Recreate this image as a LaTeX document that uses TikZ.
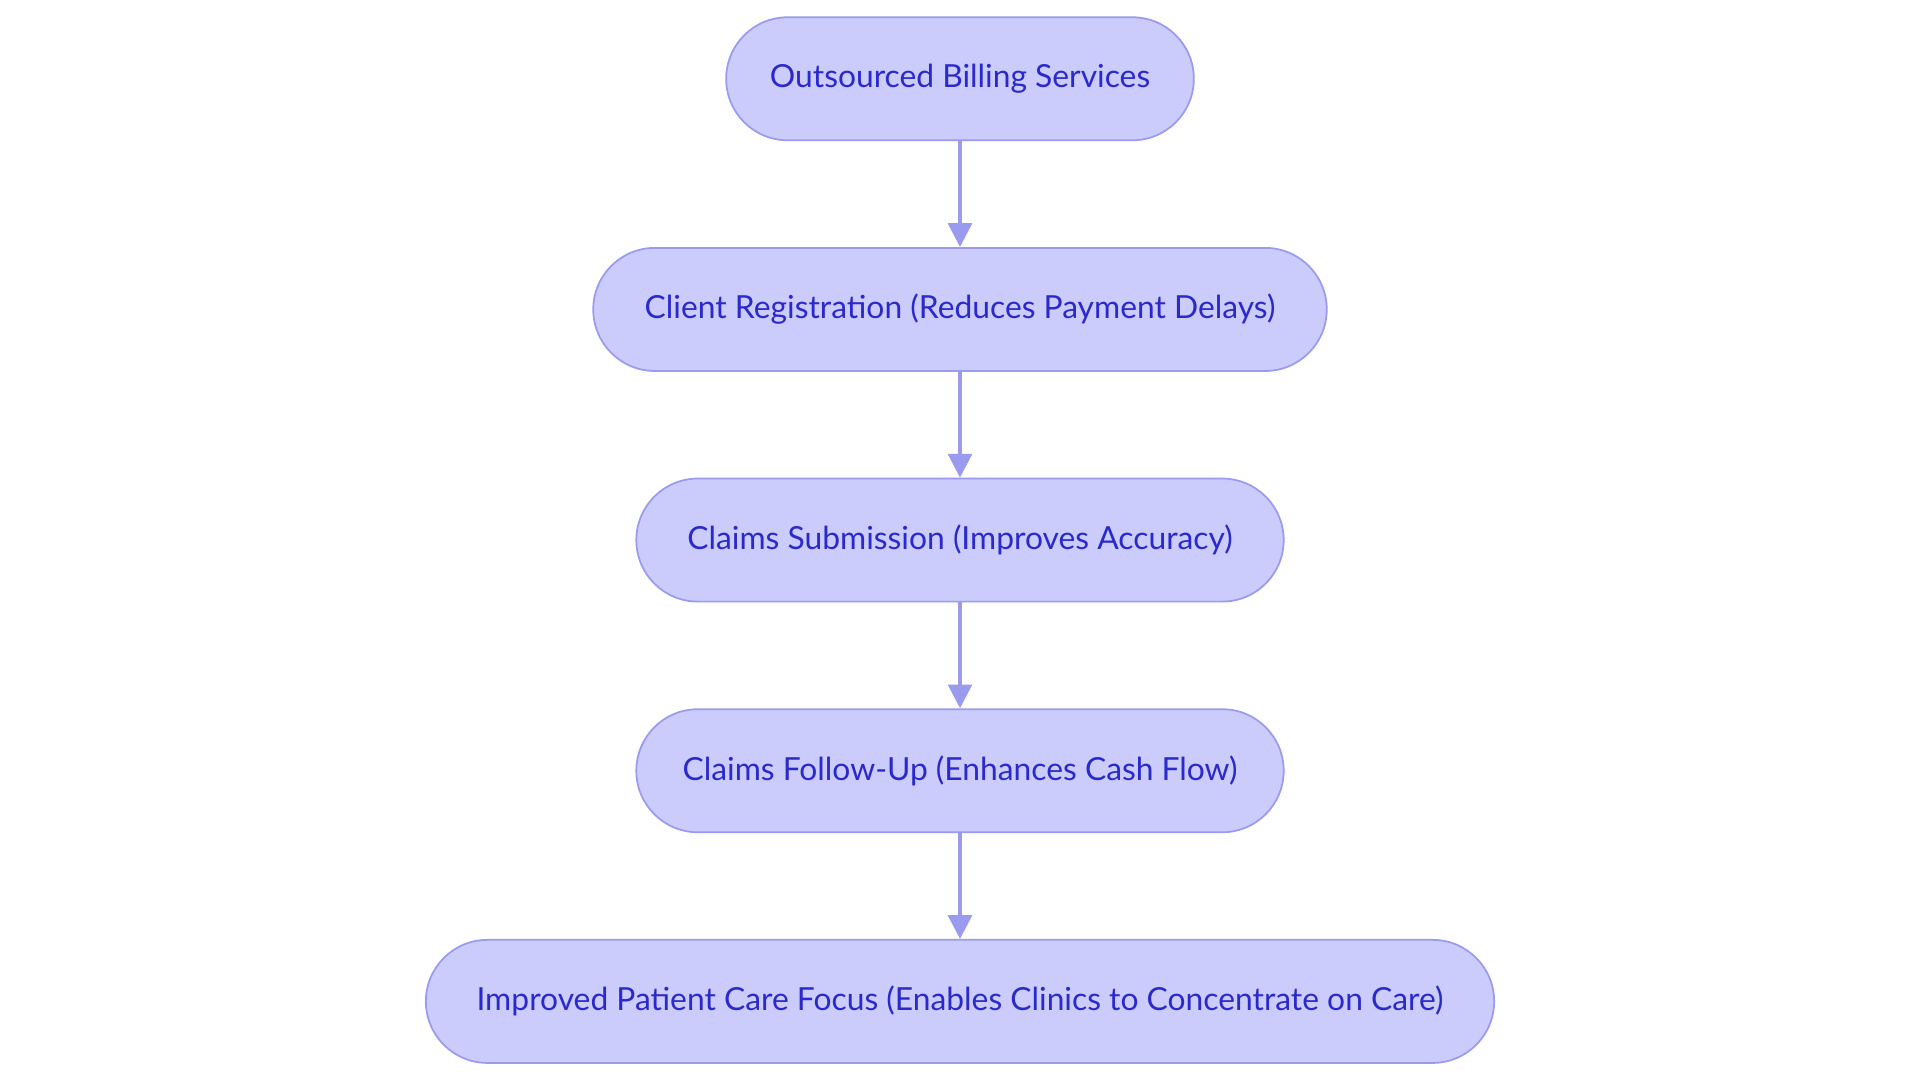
\documentclass[tikz,border=0pt]{standalone}
\usepackage{fontspec}
\setmainfont{Lato}
\usetikzlibrary{positioning,arrows.meta}
\definecolor{boxfill}{HTML}{CBCBFC}
\definecolor{boxline}{HTML}{9A9AEE}
\definecolor{boxtext}{HTML}{2A2ACC}

\begin{document}
\begin{tikzpicture}[
    stage/.style={
      draw=boxline,fill=boxfill,
      rounded corners=1cm,
      minimum height=2cm,
      font=\fontsize{14.7pt}{17pt}\selectfont,
      text=boxtext,
      line width=0.8pt
    },
    flow/.style={
      draw=boxline,line width=1.6pt,
      -{Triangle[length=11pt,width=11pt]}
    },
    node distance=1.72cm
  ]
    \useasboundingbox (0,0) rectangle (31.2,-17.6);

    % Stages
    \node[stage,minimum width=7.6cm] (outsource) at (15.6,-1.28)
      {Outsourced Billing Services};
    \node[stage,minimum width=11.92cm,below=of outsource] (register)
      {Client Registration (Reduces Payment Delays)};
    \node[stage,minimum width=10.52cm,below=of register] (submit)
      {Claims Submission (Improves Accuracy)};
    \node[stage,minimum width=10.52cm,below=of submit] (followup)
      {Claims Follow-Up (Enhances Cash Flow)};
    \node[stage,minimum width=17.36cm,below=of followup] (care)
      {Improved Patient Care Focus (Enables Clinics to Concentrate on Care)};

    % Arrows
    \foreach \a/\b in {outsource/register,register/submit,submit/followup,followup/care} {
      \draw[flow] (\a) -- (\b);
    }

\end{tikzpicture}
\end{document}
